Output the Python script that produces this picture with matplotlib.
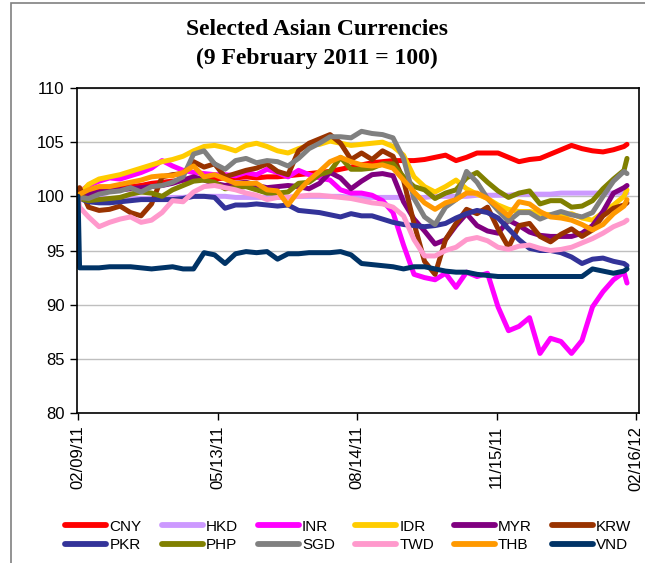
import pandas as pd
import matplotlib
matplotlib.use('Agg')
import matplotlib.pyplot as plt
import matplotlib.dates as mdates
from matplotlib.patches import Rectangle

plt.rcParams['font.family'] = ['Liberation Sans', 'DejaVu Sans']

# first two trading days, then weekly readings up to early February 2012
dates = ([pd.Timestamp('2011-02-09'), pd.Timestamp('2011-02-10')]
         + list(pd.date_range('2011-02-16', periods=52, freq='7D'))
         + [pd.Timestamp('2012-02-10')])

CNY = [100, 100.1,
       100.3, 100.5, 100.6, 100.8, 100.9, 101.0, 101.2, 101.3, 101.4, 101.5,
       101.5, 101.6, 101.6, 101.7, 101.7, 101.8, 101.7, 101.8, 101.8, 101.9,
       102.0, 102.1, 102.2, 102.3, 102.5, 102.7, 102.9, 103.1, 103.2, 103.3,
       103.3, 103.3, 103.4, 103.6, 103.8, 103.3, 103.6, 104.0, 104.0, 104.0,
       103.6, 103.2, 103.4, 103.5, 103.9, 104.3, 104.7, 104.4, 104.2, 104.1,
       104.3, 104.6, 104.8]
HKD = [100, 100,
       99.9, 99.9, 99.8, 99.8, 99.8, 99.8, 99.8, 99.8, 99.9, 99.9,
       100.0, 100.0, 100.0, 100.0, 99.9, 99.9, 99.9, 99.9, 99.9, 99.9,
       100.0, 100.0, 100.0, 100.0, 100.0, 99.9, 99.9, 99.9, 99.9, 99.9,
       99.9, 99.9, 99.9, 100.0, 100.0, 100.0, 100.0, 100.1, 100.1, 100.1,
       100.1, 100.2, 100.2, 100.2, 100.2, 100.3, 100.3, 100.3, 100.3, 100.3,
       100.3, 100.3, 100.3]
INR = [100, 100.4,
       101.0, 101.4, 101.7, 101.6, 101.9, 102.2, 102.6, 103.3, 102.8, 102.4,
       102.2, 102.1, 102.0, 102.0, 101.9, 102.2, 102.0, 102.5, 102.2, 101.8,
       102.4, 102.0, 101.7, 101.5, 100.6, 100.3, 100.3, 100.1, 99.6, 98.5,
       95.5, 92.8, 92.5, 92.3, 92.9, 91.6, 93.0, 92.6, 92.9, 89.8,
       87.6, 88.0, 88.8, 85.5, 86.9, 86.6, 85.5, 86.7, 89.8, 91.2,
       92.3, 93.0, 92.0]
IDR = [100, 100.2,
       101.1, 101.6, 101.8, 102.0, 102.3, 102.6, 102.9, 103.2, 103.4, 103.7,
       104.2, 104.6, 104.7, 104.5, 104.2, 104.7, 104.9, 104.6, 104.2, 104.0,
       104.4, 104.7, 104.8, 105.1, 104.9, 104.7, 104.8, 104.9, 105.0, 104.6,
       103.8, 101.8, 100.9, 100.4, 100.9, 101.5, 100.7, 100.2, 99.8, 99.2,
       98.8, 98.6, 98.6, 98.4, 98.3, 98.2, 98.4, 98.0, 97.8, 98.5,
       99.2, 100.0, 100.6]
MYR = [100, 100.1,
       100.2, 100.4, 100.5, 100.6, 100.7, 100.8, 100.9, 101.0, 101.2, 101.5,
       101.8, 101.5, 101.2, 101.0, 101.2, 101.3, 101.0, 100.8, 100.9, 101.0,
       100.9, 100.7, 101.2, 102.2, 101.7, 100.7, 101.4, 102.0, 102.1, 101.9,
       99.5, 97.9, 96.8, 95.6, 96.0, 97.3, 98.4, 97.3, 96.8, 96.6,
       97.8, 97.3, 96.7, 96.4, 96.3, 96.3, 96.3, 96.6, 97.3, 98.6,
       100.3, 100.8, 101.0]
KRW = [100, 100.8,
       99.0, 98.7, 98.8, 99.1, 98.5, 98.2, 99.3, 101.8, 102.0, 102.1,
       103.2, 102.7, 103.0, 101.8, 102.1, 102.4, 102.6, 103.0, 102.3, 102.0,
       104.2, 104.9, 105.3, 105.7, 104.9, 103.4, 104.0, 103.4, 104.2, 103.7,
       101.5, 97.5, 94.0, 92.8, 96.0, 97.5, 98.8, 98.4, 99.0, 97.0,
       95.3, 97.3, 97.5, 96.3, 95.8, 96.5, 97.0, 96.3, 96.9, 98.2,
       98.9, 99.2, 99.4]
PKR = [100, 99.8,
       99.5, 99.4, 99.4, 99.5, 99.6, 99.7, 99.7, 99.7, 99.7, 99.8,
       100.0, 100.0, 99.9, 98.9, 99.2, 99.2, 99.3, 99.2, 99.1, 99.2,
       98.7, 98.6, 98.5, 98.3, 98.1, 98.4, 98.2, 98.2, 97.9, 97.6,
       97.4, 97.3, 97.2, 97.3, 97.5, 98.0, 98.4, 98.7, 98.5, 98.0,
       97.0, 96.0, 95.2, 95.0, 95.0, 94.8, 94.4, 93.8, 94.2, 94.3,
       94.0, 93.8, 93.6]
PHP = [100, 99.8,
       99.6, 99.7, 99.8, 99.9, 100.2, 100.4, 100.3, 100.0, 100.6, 101.0,
       101.4, 101.5, 101.3, 100.7, 100.8, 100.9, 100.6, 100.3, 100.3, 100.4,
       101.2, 101.3, 102.0, 102.3, 103.6, 102.5, 102.5, 102.6, 103.0, 103.0,
       101.8, 100.9, 100.6, 99.8, 100.3, 100.6, 101.7, 102.2, 101.3, 100.5,
       99.9, 100.3, 100.5, 99.3, 99.6, 99.6, 99.0, 99.1, 99.6, 100.7,
       101.6, 102.4, 103.5]
SGD = [100, 99.9,
       99.8, 100.2, 100.4, 100.5, 100.8, 100.4, 100.9, 101.0, 101.3, 101.8,
       103.9, 104.2, 103.0, 102.5, 103.3, 103.5, 103.1, 103.3, 103.2, 102.8,
       103.5, 104.4, 104.9, 105.5, 105.5, 105.4, 106.0, 105.8, 105.7, 105.4,
       103.5, 99.8, 98.1, 97.4, 99.0, 99.7, 102.3, 101.3, 99.8, 98.7,
       97.7, 98.5, 98.5, 97.9, 98.3, 98.6, 98.3, 98.1, 98.5, 100.0,
       101.4, 102.3, 102.1]
TWD = [100, 99.0,
       98.1, 97.2, 97.6, 97.9, 98.1, 97.6, 97.8, 98.5, 99.6, 99.5,
       100.4, 100.9, 101.0, 100.8, 100.6, 100.3, 100.1, 99.7, 99.9, 99.9,
       100.0, 100.1, 100.1, 100.0, 99.9, 99.8, 99.6, 99.4, 99.3, 99.0,
       98.2, 96.0, 94.5, 94.5, 95.0, 95.3, 96.0, 96.2, 95.9, 95.3,
       95.1, 95.4, 95.5, 95.2, 95.0, 95.1, 95.3, 95.7, 96.1, 96.6,
       97.2, 97.6, 97.8]
THB = [100, 100.2,
       100.6, 100.9, 100.9, 101.1, 101.3, 101.5, 101.8, 101.9, 101.9, 102.2,
       102.8, 101.8, 102.0, 101.6, 101.2, 101.2, 101.2, 100.6, 100.5, 99.2,
       100.5, 101.5, 102.3, 103.2, 103.6, 103.2, 102.9, 102.8, 102.9, 102.6,
       101.5, 100.4, 99.4, 98.8, 99.4, 99.7, 100.3, 100.3, 99.8, 99.0,
       98.2, 99.5, 99.3, 98.6, 98.1, 98.0, 97.8, 97.4, 96.9, 97.4,
       98.4, 99.1, 99.7]
VND = [100, 93.4,
       93.4, 93.4, 93.5, 93.5, 93.5, 93.4, 93.3, 93.4, 93.5, 93.3,
       93.3, 94.8, 94.6, 93.8, 94.7, 94.9, 94.8, 94.9, 94.2, 94.7,
       94.7, 94.8, 94.8, 94.8, 94.9, 94.6, 93.8, 93.7, 93.6, 93.5,
       93.3, 93.5, 93.5, 93.3, 93.1, 93.0, 93.0, 92.8, 92.7, 92.6,
       92.6, 92.6, 92.6, 92.6, 92.6, 92.6, 92.6, 92.6, 93.3, 93.1,
       92.9, 93.1, 93.3]

names = ['CNY', 'HKD', 'INR', 'IDR', 'MYR', 'KRW',
         'PKR', 'PHP', 'SGD', 'TWD', 'THB', 'VND']
series = [CNY, HKD, INR, IDR, MYR, KRW, PKR, PHP, SGD, TWD, THB, VND]
colors = ['#FF0000', '#CC99FF', '#FF00FF', '#FFCC00', '#800080', '#993300',
          '#333399', '#808000', '#808080', '#FF99CC', '#FF9900', '#003366']

tick_dates = ['2011-02-09', '2011-05-13', '2011-08-14', '2011-11-15', '2012-02-16']

fig = plt.figure(figsize=(6.45, 5.63), dpi=100)
ax = fig.add_axes([0.1194, 0.2664, 0.8713, 0.5773])

lines = {}
for name, vals, col in zip(names, series, colors):
    ln, = ax.plot(dates, vals, color=col, lw=3.6, label=name,
                  solid_capstyle='round', solid_joinstyle='round')
    lines[name] = ln

x0 = mdates.date2num(pd.Timestamp('2011-02-09')) - 0.7
ax.set_xlim(x0, x0 + 374.7)
ax.set_ylim(80, 110)
ax.set_yticks(range(80, 111, 5))
ax.yaxis.grid(True, color='#BFBFBF', lw=1)
ax.set_axisbelow(True)

tick_pos = [mdates.date2num(pd.Timestamp(d)) for d in tick_dates]
ax.set_xticks(tick_pos)
ax.set_xticklabels([pd.Timestamp(d).strftime('%m/%d/%y') for d in tick_dates],
                   rotation=90)
ax.tick_params(axis='both', labelsize=12, length=5, width=1, direction='out',
               color='black', pad=4)
for sp in ax.spines.values():
    sp.set_color('black')
    sp.set_linewidth(1.2)

fig.text(0.4915, 0.947, 'Selected Asian Currencies', ha='center', va='center',
         fontsize=17, fontweight='bold', family='Liberation Serif')
fig.text(0.4915, 0.897, '(9 February 2011 = 100)', ha='center', va='center',
         fontsize=17, fontweight='bold', family='Liberation Serif')

# legend filled column by column: two rows of six
order = ['CNY', 'PKR', 'HKD', 'PHP', 'INR', 'SGD',
         'IDR', 'TWD', 'MYR', 'THB', 'KRW', 'VND']
leg = fig.legend([lines[n] for n in order], order, ncol=6, loc='center',
                 bbox_to_anchor=(0.54, 0.048), frameon=False, fontsize=11,
                 handlelength=2.7, handletextpad=0.2, columnspacing=1.3,
                 labelspacing=0.3)
for h in leg.legend_handles:
    h.set_linewidth(4.2)

# thin grey frame round the whole chart
fig.patches.append(Rectangle((11 / 645, -0.05), 1.0, (560 / 563) + 0.05,
                             transform=fig.transFigure, fill=False,
                             edgecolor='#808080', lw=1.2))

fig.savefig('out.png', dpi=100)
